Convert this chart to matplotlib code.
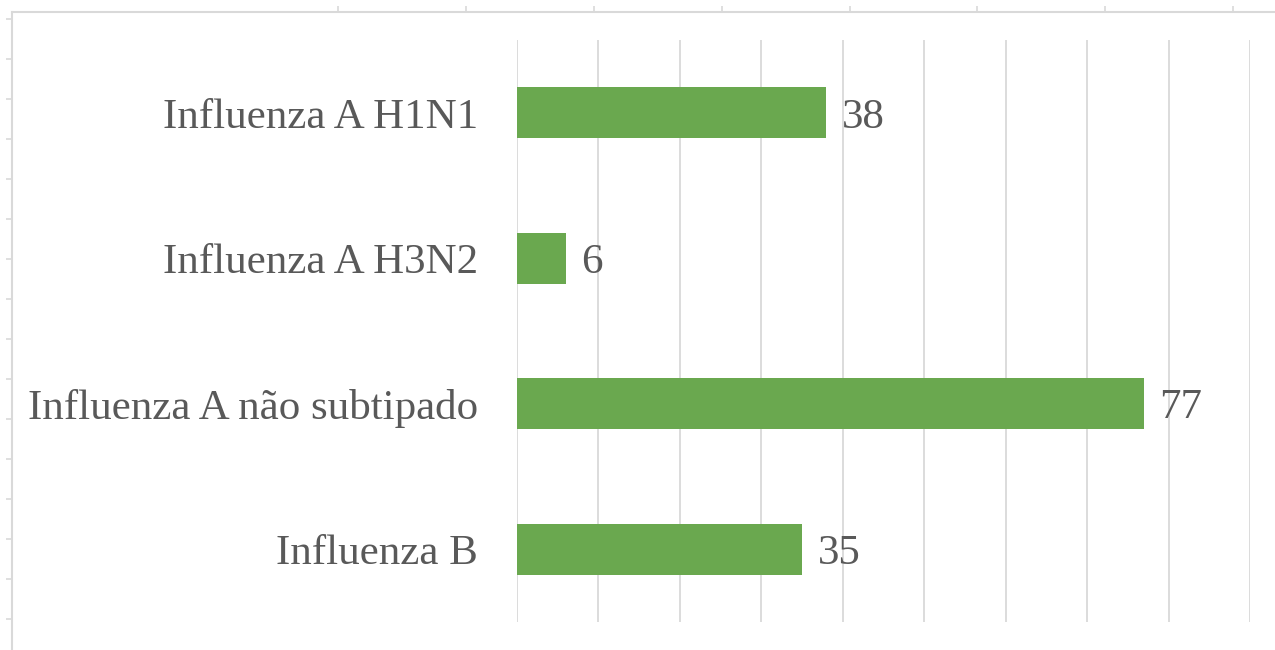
import numpy as np
import matplotlib.pyplot as plt

# dados
categorias = ['Influenza A H1N1', 'Influenza A H3N2', 'Influenza A não subtipado', 'Influenza B']
valores = [38, 6, 77, 35]

verde = '#6AA84F'
cinza_texto = '#595959'
cinza_grade = '#D9D9D9'

plt.rcParams['font.family'] = ['Liberation Serif', 'DejaVu Serif']

W, H = 1275, 650
fig = plt.figure(figsize=(W / 100, H / 100), dpi=100)

# moldura de fundo (borda da planilha do Excel)
fundo = fig.add_axes([12 / W, 0, 1 - 12 / W, 1 - 12 / H])
fundo.set_xlim(12, W)
fundo.set_ylim(H, 12)
for lado in ['right', 'bottom']:
    fundo.spines[lado].set_visible(False)
for lado in ['top', 'left']:
    fundo.spines[lado].set_color(cinza_grade)
    fundo.spines[lado].set_linewidth(1.5)
fundo.xaxis.tick_top()
fundo.set_xticks(np.arange(338, W, 127.9))
fundo.set_yticks(np.arange(18.5, H, 40))
fundo.tick_params(colors=cinza_grade, length=4, width=1.2, labeltop=False, labelleft=False)
fundo.patch.set_alpha(0)

# grafico de barras
ax = fig.add_axes([517 / W, 1 - 622 / H, (1250 - 517) / W, (622 - 40) / H])
y = np.arange(len(categorias))
ax.barh(y, valores, height=0.35, color=verde, zorder=3)
ax.set_xlim(0, 90)
ax.set_ylim(len(categorias) - 0.5, -0.5)
ax.set_xticks(np.arange(0, 91, 10))
ax.grid(axis='x', color=cinza_grade, linewidth=1.3, zorder=0)
ax.set_yticks(y)
ax.set_yticklabels(categorias, fontsize=31, color=cinza_texto)
ax.tick_params(axis='y', length=0, pad=28)
ax.tick_params(axis='x', length=0, labelbottom=False)
for s in ax.spines.values():
    s.set_visible(False)

for yi, v in zip(y, valores):
    ax.text(v + 1.9, yi, str(v), va='center_baseline', ha='left', fontsize=31, color=cinza_texto)

fig.savefig('out.png', dpi=100)
